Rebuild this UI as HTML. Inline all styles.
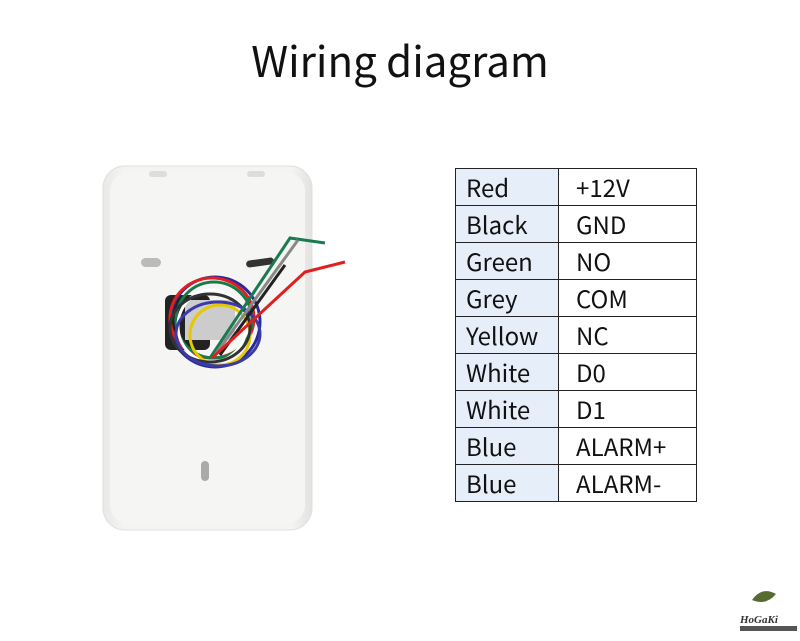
<!DOCTYPE html>
<html><head><meta charset="utf-8"><style>
body{margin:0;width:800px;height:641px;background:#fff;position:relative;overflow:hidden;font-family:"Noto Sans CJK SC","Liberation Sans",sans-serif}
h1{position:absolute;top:30px;left:0;width:800px;text-align:center;margin:0;font-weight:normal;font-size:42px;line-height:60px;color:#111}
table{position:absolute;left:455px;top:168px;border-collapse:collapse}
td{border:1px solid #222;height:37px;padding:0 0 0 10px;font-size:24px;line-height:30px;color:#111;box-sizing:border-box}
td.a{width:103px;background:#e5eef9}
td.b{width:138px;padding-left:17px}
</style></head><body>
<h1>Wiring diagram</h1>
<svg style="position:absolute;left:0;top:0" width="800" height="641">
<defs><linearGradient id="g" x1="0" x2="1"><stop offset="0" stop-color="#e8e8e6"/><stop offset="0.1" stop-color="#f4f4f2"/><stop offset="0.9" stop-color="#f4f4f2"/><stop offset="1" stop-color="#e2e2e0"/></linearGradient></defs>
<rect x="103" y="166" width="209" height="364" rx="22" fill="url(#g)" stroke="#e0e0de"/>
<rect x="110" y="173" width="195" height="350" rx="18" fill="#f5f5f3"/>
<rect x="149" y="171" width="18" height="6" rx="3" fill="#ddd"/>
<rect x="247" y="171" width="18" height="6" rx="3" fill="#ddd"/>
<rect x="141" y="258" width="20" height="9" rx="4.5" fill="#bbb"/>
<rect x="246" y="259" width="28" height="7" rx="3.5" fill="#333" transform="rotate(-8 260 262)"/>
<rect x="201" y="461" width="8" height="20" rx="4" fill="#aaa"/>
<rect x="165" y="295" width="45" height="55" rx="6" fill="#222"/>
<rect x="185" y="300" width="50" height="40" fill="#ccc"/>
<g fill="none" stroke-width="3">
<ellipse cx="215" cy="322" rx="45" ry="45" stroke="#2a2a9a"/>
<ellipse cx="212" cy="318" rx="42" ry="40" stroke="#e02020"/>
<ellipse cx="214" cy="320" rx="38" ry="38" stroke="#1a7a4a"/>
<ellipse cx="212" cy="326" rx="34" ry="36" stroke="#fff"/>
<ellipse cx="220" cy="335" rx="30" ry="30" stroke="#e6c800"/>
<ellipse cx="210" cy="328" rx="40" ry="34" stroke="#333"/>
<ellipse cx="218" cy="334" rx="42" ry="32" stroke="#3a3aaa"/>
<path d="M210 358 L290 238 L325 243" stroke="#1a7a50"/>
<path d="M215 355 L298 240" stroke="#888"/>
<path d="M220 355 L285 265" stroke="#222"/>
<path d="M212 358 L305 272 L345 262" stroke="#e02020"/>
</g>
<text x="740" y="623" font-size="11" font-style="italic" font-weight="bold" fill="#333" font-family="Liberation Serif">HoGaKi</text>
<path d="M752 600 q10 -14 24 -6 q-10 12 -24 6z" fill="#556b2f"/>
<rect x="740" y="626" width="57" height="5" fill="#555"/>
</svg>
<table>
<tr><td class="a">Red</td><td class="b">+12V</td></tr>
<tr><td class="a">Black</td><td class="b">GND</td></tr>
<tr><td class="a">Green</td><td class="b">NO</td></tr>
<tr><td class="a">Grey</td><td class="b">COM</td></tr>
<tr><td class="a">Yellow</td><td class="b">NC</td></tr>
<tr><td class="a">White</td><td class="b">D0</td></tr>
<tr><td class="a">White</td><td class="b">D1</td></tr>
<tr><td class="a">Blue</td><td class="b">ALARM+</td></tr>
<tr><td class="a">Blue</td><td class="b">ALARM-</td></tr>
</table>
</body></html>
